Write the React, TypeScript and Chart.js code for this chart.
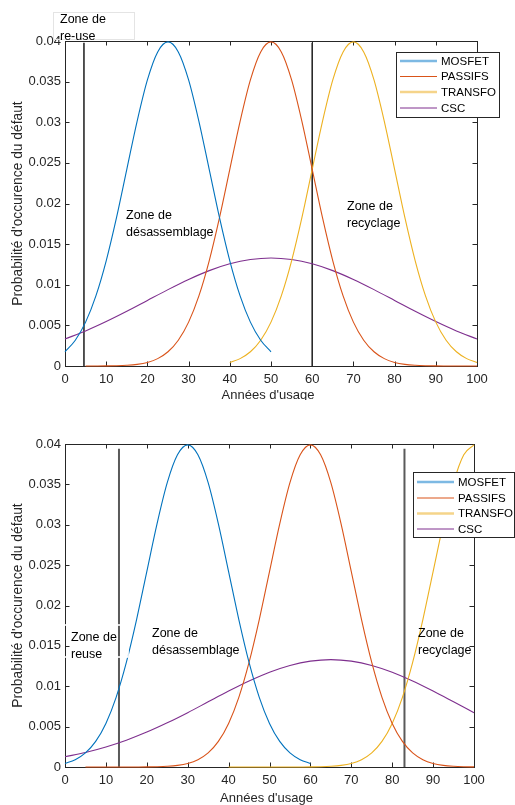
import React, { useEffect, useRef } from 'react';
import { Chart, registerables } from 'chart.js';
Chart.register(...registerables);

const FONT = '"Liberation Sans", Arial, Helvetica, sans-serif';
const AXIS_COLOR = '#262626';

const SERIES_NAMES = ['MOSFET', 'PASSIFS', 'TRANSFO', 'CSC'];
const SERIES_COLORS = ['#0072BD', '#D95319', '#EDB120', '#7E2F8E'];
const LEGEND_COLORS = ['#7DB9E3', '#D95319', '#F5D48A', '#7E2F8E'];
const LEGEND_WIDTHS = [2.5, 1, 2.5, 1];

const X_TICKS = [0, 10, 20, 30, 40, 50, 60, 70, 80, 90, 100];
const Y_TICKS = [0, 0.005, 0.01, 0.015, 0.02, 0.025, 0.03, 0.035, 0.04];
const X_TITLE = "Années d'usage";
const Y_TITLE = "Probabilité d'occurence du défaut";

const YEARS_0_50 = [0, 2.5, 5, 7.5, 10, 12.5, 15, 17.5, 20, 22.5, 25, 27.5, 30, 32.5, 35, 37.5, 40, 42.5, 45, 47.5, 50];
const YEARS_0_60 = [0, 2.5, 5, 7.5, 10, 12.5, 15, 17.5, 20, 22.5, 25, 27.5, 30, 32.5, 35, 37.5, 40, 42.5, 45, 47.5, 50, 52.5, 55, 57.5, 60];
const YEARS_5_100 = [5, 7.5, 10, 12.5, 15, 17.5, 20, 22.5, 25, 27.5, 30, 32.5, 35, 37.5, 40, 42.5, 45, 47.5, 50, 52.5, 55, 57.5, 60, 62.5, 65, 67.5, 70, 72.5, 75, 77.5, 80, 82.5, 85, 87.5, 90, 92.5, 95, 97.5, 100];
const YEARS_40_100 = [40, 42.5, 45, 47.5, 50, 52.5, 55, 57.5, 60, 62.5, 65, 67.5, 70, 72.5, 75, 77.5, 80, 82.5, 85, 87.5, 90, 92.5, 95, 97.5, 100];
const YEARS_0_100 = [0, 5, 10, 15, 20, 25, 30, 35, 40, 45, 50, 55, 60, 65, 70, 75, 80, 85, 90, 95, 100];

// Top chart
const TOP_MOSFET = [0.00175, 0.00317, 0.0054, 0.00863, 0.01295, 0.01826, 0.0242, 0.03011, 0.03521, 0.03866, 0.03989, 0.03866, 0.03521, 0.03011, 0.0242, 0.01826, 0.01295, 0.00863, 0.0054, 0.00317, 0.00175];
const TOP_PASSIFS = [0.0000016, 0.0000048, 0.000013, 0.000035, 0.000087, 0.0002, 0.00044, 0.000909, 0.00175, 0.00317, 0.0054, 0.00863, 0.01295, 0.01826, 0.0242, 0.03011, 0.03521, 0.03866, 0.03989, 0.03866, 0.03521, 0.03011, 0.0242, 0.01826, 0.01295, 0.00863, 0.0054, 0.00317, 0.00175, 0.000909, 0.00044, 0.0002, 0.000087, 0.000035, 0.000013, 0.0000048, 0.0000016, 0.0000005, 0];
const TOP_TRANSFO = [0.00044, 0.000909, 0.00175, 0.00317, 0.0054, 0.00863, 0.01295, 0.01826, 0.0242, 0.03011, 0.03521, 0.03866, 0.03989, 0.03866, 0.03521, 0.03011, 0.0242, 0.01826, 0.01295, 0.00863, 0.0054, 0.00317, 0.00175, 0.000909, 0.00044];
const TOP_CSC = [0.00332, 0.00432, 0.00547, 0.00673, 0.00807, 0.0094, 0.01065, 0.01174, 0.01258, 0.01311, 0.0133, 0.01311, 0.01258, 0.01174, 0.01065, 0.0094, 0.00807, 0.00673, 0.00547, 0.00432, 0.00332];
const TOP_LIMITS = [4.6, 60];
const TOP_LIMIT_HEIGHT = 0.0398;

// Bottom chart
const BOT_MOSFET = [0.00044, 0.000909, 0.00175, 0.00317, 0.0054, 0.00863, 0.01295, 0.01826, 0.0242, 0.03011, 0.03521, 0.03866, 0.03989, 0.03866, 0.03521, 0.03011, 0.0242, 0.01826, 0.01295, 0.00863, 0.0054, 0.00317, 0.00175, 0.000909, 0.00044];
const BOT_PASSIFS = [0, 0, 0, 0.0000005, 0.0000016, 0.0000048, 0.000013, 0.000035, 0.000087, 0.0002, 0.00044, 0.000909, 0.00175, 0.00317, 0.0054, 0.00863, 0.01295, 0.01826, 0.0242, 0.03011, 0.03521, 0.03866, 0.03989, 0.03866, 0.03521, 0.03011, 0.0242, 0.01826, 0.01295, 0.00863, 0.0054, 0.00317, 0.00175, 0.000909, 0.00044, 0.0002, 0.000087, 0.000035, 0.000013];
const BOT_TRANSFO = [0, 0, 0, 0, 0, 0.0000005, 0.0000016, 0.0000048, 0.000013, 0.000035, 0.000087, 0.0002, 0.00044, 0.000909, 0.00175, 0.00317, 0.0054, 0.00863, 0.01295, 0.01826, 0.0242, 0.03011, 0.03521, 0.03866, 0.03989];
const BOT_CSC = [0.00127, 0.0018, 0.00248, 0.00332, 0.00432, 0.00547, 0.00673, 0.00807, 0.0094, 0.01065, 0.01174, 0.01258, 0.01311, 0.0133, 0.01311, 0.01258, 0.01174, 0.01065, 0.0094, 0.00807, 0.00673];
const BOT_LIMITS = [13.2, 83];
const BOT_LIMIT_HEIGHT = 0.0394;

const TOP_ZONE_LABELS = [
  { lines: ['Zone de', 're-use'], x: 60, y: 20 },
  { lines: ['Zone de', 'désassemblage'], x: 126, y: 216 },
  { lines: ['Zone de', 'recyclage'], x: 347, y: 207 },
];
const BOT_ZONE_LABELS = [
  { lines: ['Zone de', 'reuse'], x: 71, y: 238 },
  { lines: ['Zone de', 'désassemblage'], x: 152, y: 234 },
  { lines: ['Zone de', 'recyclage'], x: 418, y: 234 },
];

const pts = (xs: number[], ys: number[]) => xs.map((x, i) => ({ x, y: ys[i] }));

interface Cfg {
  height: number;
  padTop: number;
  padRight: number;
  xAxisH: number;
  xTickPad: number;
  xTitleOffset: number;
  series: { x: number[]; y: number[] }[];
  limits: number[];
  limitHeight: number;
  limitColor: string;
  limitWidth: number;
  zones: { lines: string[]; x: number; y: number }[];
  legend: { x: number; y: number; w: number; h: number; sampleX0: number; sampleX1: number; textX: number; rows: number[] };
  frame?: { x: number; y: number; w: number; h: number; color: string; width: number };
}

const TOP_CFG: Cfg = {
  height: 400,
  padTop: 41,
  padRight: 38,
  xAxisH: 34,
  xTickPad: 6,
  xTitleOffset: 29,
  series: [
    { x: YEARS_0_50, y: TOP_MOSFET },
    { x: YEARS_5_100, y: TOP_PASSIFS },
    { x: YEARS_40_100, y: TOP_TRANSFO },
    { x: YEARS_0_100, y: TOP_CSC },
  ],
  limits: TOP_LIMITS,
  limitHeight: TOP_LIMIT_HEIGHT,
  limitColor: '#2a2a2a',
  limitWidth: 1.6,
  zones: TOP_ZONE_LABELS,
  legend: { x: 396.5, y: 52.5, w: 103, h: 65, sampleX0: 400, sampleX1: 437, textX: 441, rows: [61, 76.5, 92, 108] },
  frame: { x: 53.5, y: 12.5, w: 81, h: 27, color: '#e4e4e4', width: 1 },
};

const BOT_CFG: Cfg = {
  height: 405,
  padTop: 44,
  padRight: 41,
  xAxisH: 38,
  xTickPad: 6,
  xTitleOffset: 31,
  series: [
    { x: YEARS_0_60, y: BOT_MOSFET },
    { x: YEARS_5_100, y: BOT_PASSIFS },
    { x: YEARS_40_100, y: BOT_TRANSFO },
    { x: YEARS_0_100, y: BOT_CSC },
  ],
  limits: BOT_LIMITS,
  limitHeight: BOT_LIMIT_HEIGHT,
  limitColor: '#5a5a5a',
  limitWidth: 2,
  zones: BOT_ZONE_LABELS,
  legend: { x: 413.5, y: 72.5, w: 101, h: 65, sampleX0: 417, sampleX1: 454, textX: 458, rows: [82, 98, 113.5, 129] },
  frame: { x: 63, y: 225, w: 65, h: 32, color: '#ffffff', width: 1.6 },
};

function makeDecor(cfg: Cfg) {
  return {
    id: 'matlabDecor',
    beforeDatasetsDraw(chart: any) {
      const { ctx, chartArea: a, scales } = chart;
      ctx.save();
      ctx.strokeStyle = AXIS_COLOR;
      ctx.lineWidth = 1;
      ctx.strokeRect(Math.round(a.left) + 0.5, Math.round(a.top) + 0.5, Math.round(a.right - a.left), Math.round(a.bottom - a.top));
      ctx.beginPath();
      const tl = 4.5;
      X_TICKS.forEach((v) => {
        const px = Math.round(scales.x.getPixelForValue(v)) + 0.5;
        ctx.moveTo(px, a.bottom);
        ctx.lineTo(px, a.bottom - tl);
        ctx.moveTo(px, a.top);
        ctx.lineTo(px, a.top + tl);
      });
      Y_TICKS.forEach((v) => {
        const py = Math.round(scales.y.getPixelForValue(v)) + 0.5;
        ctx.moveTo(a.left, py);
        ctx.lineTo(a.left + tl, py);
        ctx.moveTo(a.right, py);
        ctx.lineTo(a.right - tl, py);
      });
      ctx.stroke();
      ctx.restore();
    },
    afterDraw(chart: any) {
      const { ctx, chartArea: a } = chart;
      ctx.save();
      // axis titles
      ctx.fillStyle = AXIS_COLOR;
      ctx.font = `13px ${FONT}`;
      ctx.textAlign = 'center';
      ctx.textBaseline = 'middle';
      ctx.fillText(X_TITLE, (a.left + a.right) / 2 - 3, a.bottom + cfg.xTitleOffset);
      ctx.save();
      ctx.font = `13.8px ${FONT}`;
      ctx.translate(18, (a.top + a.bottom) / 2);
      ctx.rotate(-Math.PI / 2);
      ctx.fillText(Y_TITLE, 0, 0);
      ctx.restore();

      // annotation frame
      if (cfg.frame) {
        const f = cfg.frame;
        ctx.strokeStyle = f.color;
        ctx.lineWidth = f.width;
        ctx.strokeRect(f.x, f.y, f.w, f.h);
      }

      // zone labels
      ctx.fillStyle = '#000';
      ctx.font = `12.5px ${FONT}`;
      ctx.textAlign = 'left';
      cfg.zones.forEach((z) => {
        z.lines.forEach((t, i) => ctx.fillText(t, z.x, z.y + i * 16.3));
      });

      // legend
      const L = cfg.legend;
      ctx.fillStyle = '#fff';
      ctx.fillRect(L.x, L.y, L.w, L.h);
      ctx.strokeStyle = AXIS_COLOR;
      ctx.lineWidth = 1;
      ctx.strokeRect(L.x, L.y, L.w, L.h);
      ctx.font = `11.5px ${FONT}`;
      SERIES_NAMES.forEach((name, i) => {
        const y = L.rows[i];
        ctx.strokeStyle = LEGEND_COLORS[i];
        ctx.lineWidth = LEGEND_WIDTHS[i];
        ctx.beginPath();
        ctx.moveTo(L.sampleX0, y);
        ctx.lineTo(L.sampleX1, y);
        ctx.stroke();
        ctx.fillStyle = '#000';
        ctx.fillText(name, L.textX, y + 0.5);
      });
      ctx.restore();
    },
  };
}

function MatlabChart({ cfg }: { cfg: Cfg }) {
  const ref = useRef<HTMLCanvasElement | null>(null);
  useEffect(() => {
    if (!ref.current) return;
    const datasets: any[] = cfg.series.map((s, i) => ({
      label: SERIES_NAMES[i],
      data: pts(s.x, s.y),
      borderColor: SERIES_COLORS[i],
      borderWidth: 1.1,
      pointRadius: 0,
      fill: false,
      cubicInterpolationMode: 'monotone',
      clip: false,
    }));
    cfg.limits.forEach((v) => {
      datasets.push({
        label: 'limit',
        data: [
          { x: v, y: 0 },
          { x: v, y: cfg.limitHeight },
        ],
        borderColor: cfg.limitColor,
        borderWidth: cfg.limitWidth,
        pointRadius: 0,
        fill: false,
        clip: false,
      });
    });
    const chart = new Chart(ref.current, {
      type: 'line',
      data: { datasets },
      plugins: [makeDecor(cfg)],
      options: {
        animation: false,
        responsive: false,
        maintainAspectRatio: false,
        layout: { padding: { top: cfg.padTop, right: cfg.padRight, left: 0, bottom: 0 } },
        plugins: { legend: { display: false }, tooltip: { enabled: false }, title: { display: false } },
        elements: { line: { tension: 0 } },
        scales: {
          x: {
            type: 'linear',
            min: 0,
            max: 100,
            grid: { display: false, drawTicks: false },
            border: { display: false },
            ticks: {
              stepSize: 10,
              padding: cfg.xTickPad,
              color: AXIS_COLOR,
              font: { family: FONT, size: 13 },
              maxRotation: 0,
              autoSkip: false,
            },
            afterFit: (s: any) => {
              s.height = cfg.xAxisH;
            },
          },
          y: {
            type: 'linear',
            min: 0,
            max: 0.04,
            grid: { display: false, drawTicks: false },
            border: { display: false },
            ticks: {
              stepSize: 0.005,
              padding: 4,
              color: AXIS_COLOR,
              font: { family: FONT, size: 13 },
              callback: (v: any) => String(Number(Number(v).toFixed(4))),
            },
            afterFit: (s: any) => {
              s.width = 65;
            },
          },
        },
      } as any,
    });
    return () => chart.destroy();
  }, [cfg]);
  return <canvas ref={ref} width={515} height={cfg.height} style={{ display: 'block', width: 515, height: cfg.height }} />;
}

export default function App() {
  return (
    <div style={{ position: 'absolute', left: 0, top: 0, width: 515, height: 805, background: '#fff' }}>
      <MatlabChart cfg={TOP_CFG} />
      <MatlabChart cfg={BOT_CFG} />
    </div>
  );
}
